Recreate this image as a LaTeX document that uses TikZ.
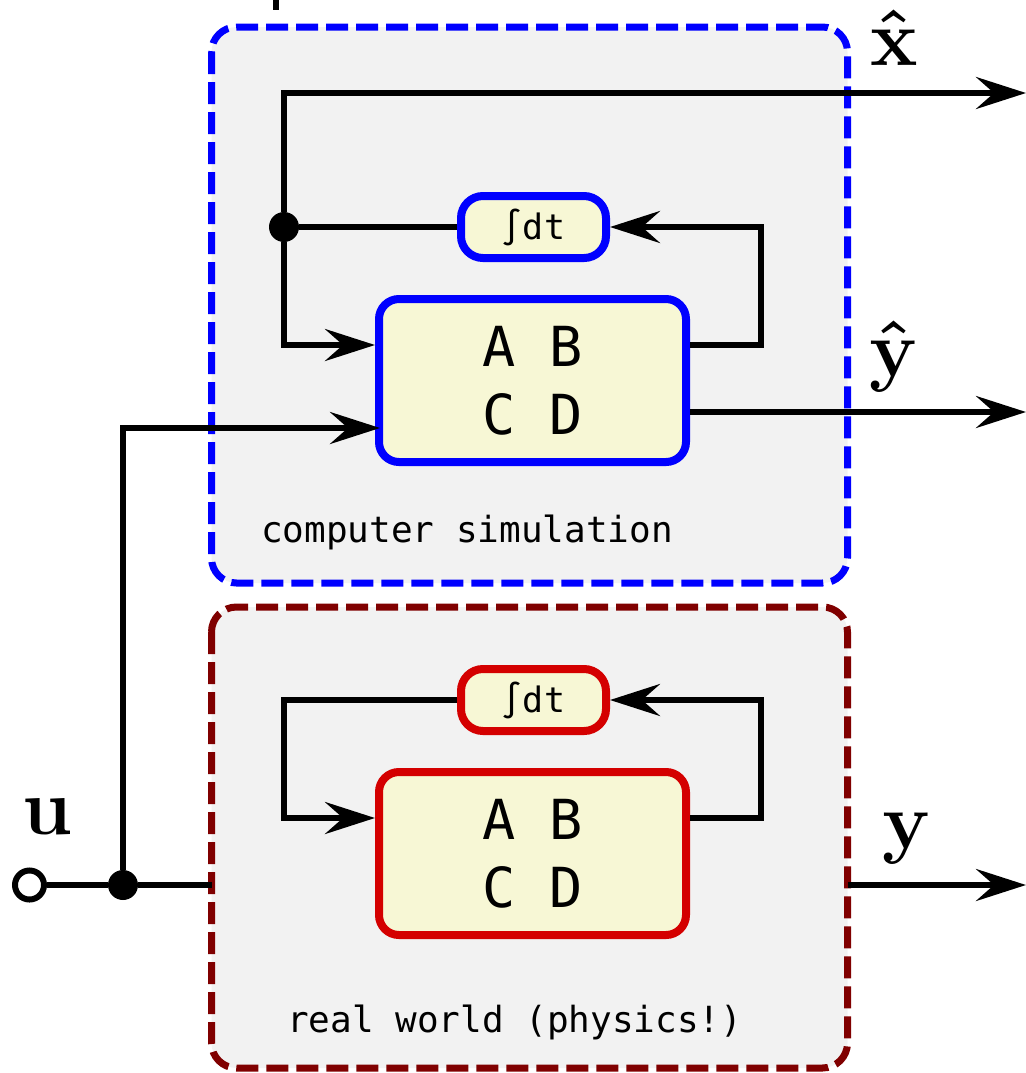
\RequirePackage{fix-cm}
\documentclass[tikz,border=0pt]{standalone}
\usepackage[no-math]{fontspec}
\setmonofont{DejaVu Sans Mono}
\usetikzlibrary{arrows.meta}

\definecolor{simblue}{RGB}{0,0,255}
\definecolor{realred}{RGB}{212,0,0}
\definecolor{framered}{RGB}{128,0,0}
\definecolor{panel}{RGB}{242,242,242}
\definecolor{blockfill}{RGB}{247,247,213}

\begin{document}
\begin{tikzpicture}[x=0.5pt,y=-0.5pt,
    wire/.style={line width=3pt},
    arr/.style={-{Stealth[length=25pt,width=16pt,inset=9pt]}},
    frame/.style={line width=3.5pt,dash pattern=on 11pt off 4pt,fill=panel,rounded corners=12.5pt},
    abcd/.style={line width=4pt,fill=blockfill,rounded corners=10pt,minimum width=153.5pt,minimum height=81.5pt,inner sep=0pt,align=center,font=\ttfamily\fontsize{27.6}{34}\selectfont},
    integ/.style={line width=4pt,fill=blockfill,rounded corners=11pt,minimum width=72.5pt,minimum height=31pt,inner sep=0pt,font=\ttfamily\fontsize{17.5}{17.5}\selectfont},
    dot/.style={circle,fill,inner sep=0pt,minimum size=15pt},
    sig/.style={anchor=base,font=\fontsize{40}{40}\selectfont}]
  \useasboundingbox (0,0) rectangle (1026,1073);

  % the two panels
  \draw[frame,draw=simblue] (211.5,27) rectangle (847.5,583);
  \draw[frame,draw=framered] (211.5,607) rectangle (847.5,1068);
  \node[anchor=base west,font=\ttfamily\fontsize{18}{18}\selectfont] (simtext) at (254,542) {computer simulation};
  \node[anchor=base west,font=\ttfamily\fontsize{18}{18}\selectfont] (realtext) at (280,1032) {real world (physics!)};

  % state space block with integrator
  \foreach \n/\c/\y in {sim/simblue/0, real/realred/473} {
    \node[abcd,draw=\c] (abcd\n) at (532.5,380.5+\y) {A B\\C D};
    \node[integ,draw=\c] (int\n) at (533.5,227+\y) {∫dt};
    \draw[wire,arr] ([yshift=17.75pt]abcd\n.east) -| ++(71,-118) -- (int\n.east);
  }

  \draw[wire] (276,0) -- (276,10);

  % simulation loop
  \node[dot] (dotx) at (284,227) {};
  \coordinate (xout) at (1026,93);
  \coordinate (yhatout) at (1026,412);
  \draw[wire] (intsim.west) -- (dotx);
  \draw[wire,arr] (dotx) |- ([yshift=17.75pt]abcdsim.west);
  \draw[wire,arr] (dotx) |- (xout);
  \draw[wire,arr] ([yshift=-15.75pt]abcdsim.east) -- (yhatout);

  % physics loop
  \draw[wire,arr] (intreal.west) -| ++(-173,118) -- ([yshift=17.75pt]abcdreal.west);
  \coordinate (yfrom) at (847.5,885);
  \coordinate (yout) at (1026,885);
  \draw[wire,arr] (yfrom) -- (yout);

  % input
  \node[circle,draw,fill=white,line width=3pt,inner sep=0pt,minimum size=14.5pt] (uin) at (29.5,885) {};
  \node[dot] (dotu) at (123,885) {};
  \coordinate (ureal) at (211.5,885);
  \coordinate (usim) at (380,428);
  \draw[wire] (uin) -- (dotu) -- (ureal);
  \draw[wire,arr] (dotu) |- (usim);

  % signal names
  \node[sig] (xhat) at (894,65) {$\mathbf{\hat{x}}$};
  \node[sig] (yhat) at (894,376) {$\mathbf{\hat{y}}$};
  \node[sig] (ylab) at (907,848) {$\mathbf{y}$};
  \node[sig] (ulab) at (47,834) {$\mathbf{u}$};
\end{tikzpicture}
\end{document}
